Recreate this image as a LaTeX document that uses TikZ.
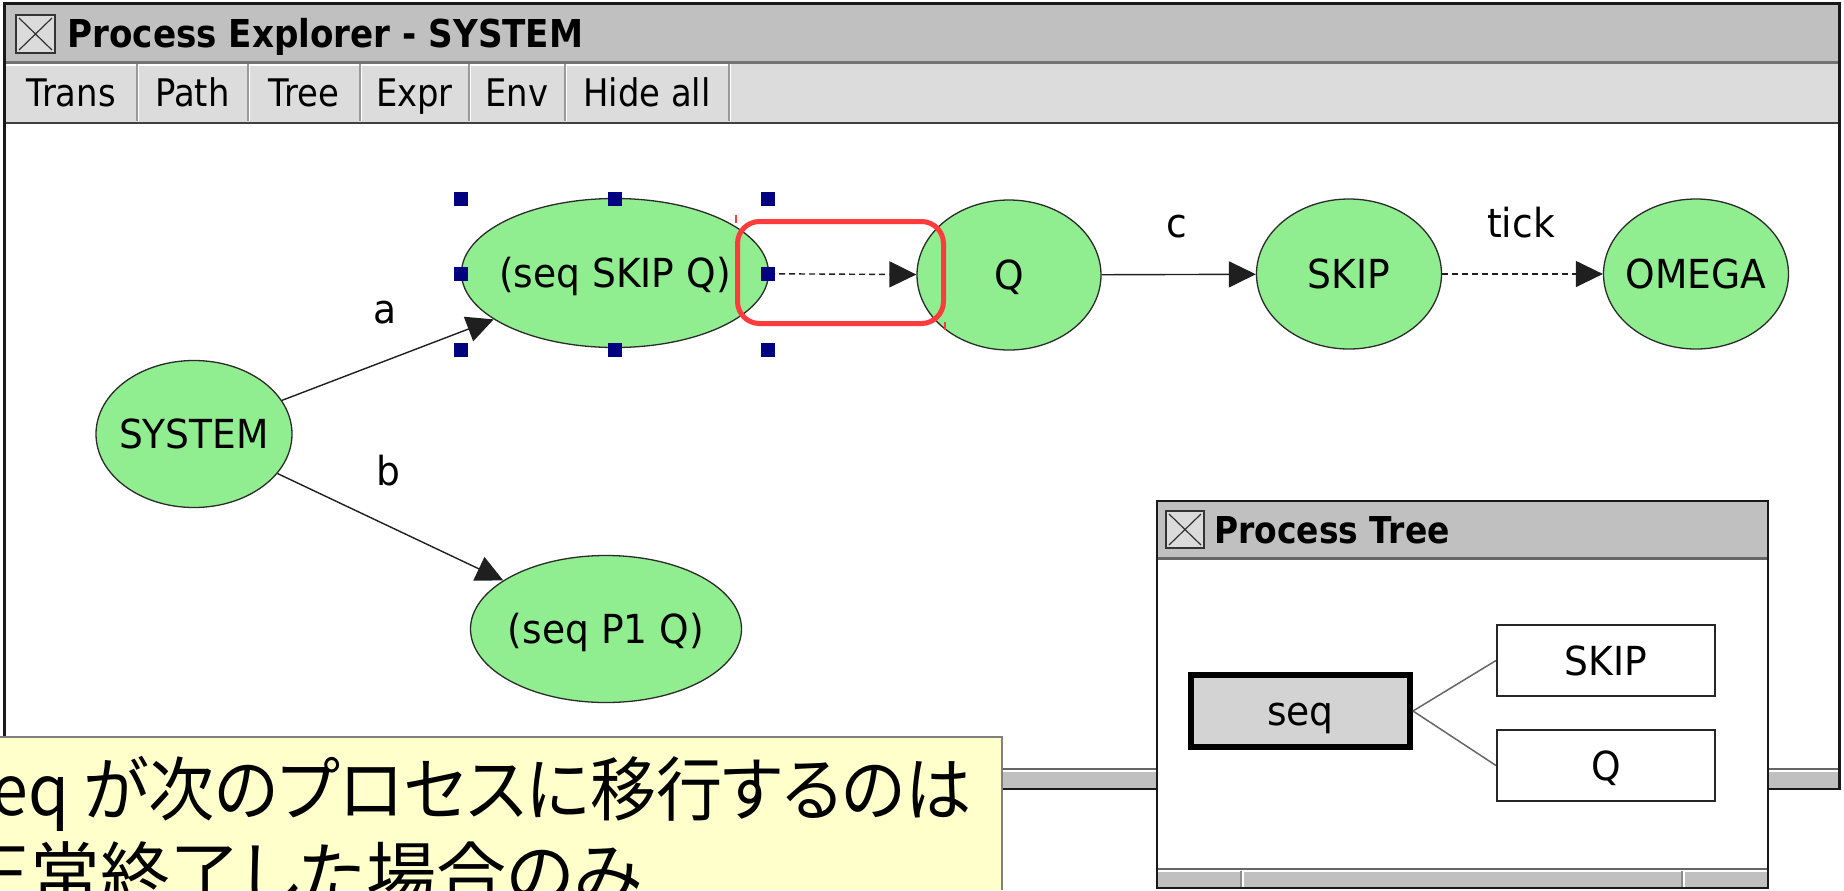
\documentclass[tikz,border=0pt]{standalone}
\usepackage{fontspec}
\setmainfont{DejaVu Sans}[FakeStretch=0.89]
\newfontfamily\nodefont{DejaVu Sans}[FakeStretch=0.94]
\newfontfamily\jpfont{Noto Sans CJK JP}[RawFeature=+palt]
\newfontfamily\jpnarrow{Noto Sans CJK JP}[RawFeature=+palt, FakeStretch=0.945]
\usetikzlibrary{shapes.geometric,arrows.meta}

\definecolor{titlegray}{HTML}{C0C0C0}
\definecolor{barface}{HTML}{DCDCDC}
\definecolor{nodegreen}{HTML}{90EE90}
\definecolor{handleblue}{HTML}{000080}
\definecolor{notebg}{HTML}{FFFFCC}
\definecolor{markred}{HTML}{FF3B3B}
\definecolor{seqgray}{HTML}{D3D3D3}
\definecolor{inkgray}{HTML}{2B2B2B}

\newcommand\statetext[1]{\makebox[0pt]{#1}}

\tikzset{
  uitext/.style={font=\fontsize{19}{22}\selectfont, inner sep=0pt, anchor=base},
  uititle/.style={font=\fontsize{18.5}{22}\selectfont\bfseries, inner sep=0pt, anchor=base west},
  state/.style={ellipse, draw=inkgray, line width=0.65pt, fill=nodegreen, inner sep=0pt,
    text height=14.6pt, text depth=0pt, font=\nodefont\fontsize{20}{24}\selectfont},
  trans/.style={draw=black!88, line width=0.7pt, -{Triangle[length=13.5pt,width=13pt]}},
  tau/.style={trans, dash pattern=on 3pt off 2pt},
  lbl/.style={font=\nodefont\fontsize{20}{24}\selectfont, inner sep=0pt, anchor=base},
  handle/.style={fill=handleblue, minimum size=7pt, inner sep=0pt},
  treebox/.style={draw=black!85, fill=white, line width=1pt, inner sep=0pt,
    minimum width=109pt, minimum height=35.5pt,
    text height=14.6pt, text depth=0pt, font=\nodefont\fontsize{20}{24}\selectfont},
  notetext/.style={font=\jpfont\fontsize{35}{40}\selectfont, inner sep=0pt, anchor=base west},
  closebox/.style={fill=black!14, draw=black!80, line width=0.7pt},
  winframe/.style={draw=black!90, line width=1.2pt},
}

\begin{document}
\begin{tikzpicture}[x=0.5pt,y=-0.5pt]
\useasboundingbox (0,0) rectangle (1844,890);
\fill[white] (0,0) rectangle (1844,890);

% ---------- main window ----------
\fill[white] (5,122) rectangle (1839,769);
\fill[titlegray] (5,4) rectangle (1839,61);
\fill[barface] (5,63) rectangle (1839,122);
\draw[black!55, line width=1.5pt] (5,62) -- (1839,62);
\draw[black!75, line width=1pt] (5,122.5) -- (1839,122.5);
\draw[white, line width=0.6pt] (6,65) -- (729,65);
\foreach \bx in {137,248,360,469,565,729} {
  \draw[black!40, line width=0.6pt] (\bx,64) -- (\bx,121);
  \draw[white, line width=0.6pt] (\bx+1.6,64) -- (\bx+1.6,121);
}
\draw[closebox] (16,15) rectangle (55,53);
\draw[black!80, line width=0.6pt] (19,18) -- (52,50) (19,50) -- (52,18);
\node[uititle, font=\fontsize{19.2}{22}\selectfont\bfseries] (title) at (67,47) {Process Explorer - SYSTEM};

\node[uitext] (bTrans) at (71,106) {Trans};
\node[uitext] (bPath) at (192.5,106) {Path};
\node[uitext] (bTree) at (304,106) {Tree};
\node[uitext] (bExpr) at (414.5,106) {Expr};
\node[uitext] (bEnv) at (517,106) {Env};
\node[uitext] (bHide) at (647,106) {Hide all};

% horizontal scroll bar
\fill[titlegray] (5,769) rectangle (1839,788);
\draw[black!60, line width=0.6pt] (5,769) -- (1839,769);
\draw[white, line width=0.6pt] (5,771) -- (1839,771);
\draw[winframe] (4.5,3.5) rectangle (1839.5,789);

% ---------- transition graph ----------
\node[state, minimum width=98pt, minimum height=73.5pt] (sys) at (194,434) {\statetext{SYSTEM}};
\node[state, minimum width=153.5pt, minimum height=74.5pt] (s1) at (615,273) {\statetext{(seq SKIP Q)}};
\node[state, minimum width=135.5pt, minimum height=73.5pt] (s2) at (606,629) {\statetext{(seq P1 Q)}};
\node[state, minimum width=92pt, minimum height=75pt] (q) at (1009,275) {\statetext{Q}};
\node[state, minimum width=92.5pt, minimum height=75pt] (skip) at (1349,274) {\statetext{SKIP}};
\node[state, minimum width=92.5pt, minimum height=75pt] (omega) at (1696,274) {\statetext{OMEGA}};

\draw[trans] (sys) -- (s1);
\draw[trans] (sys) -- (s2);
\draw[tau] (s1) -- (q);
\draw[trans] (q) -- (skip);
\draw[tau] (skip) -- (omega);

\node[lbl] (la) at (385,323) {a};
\node[lbl] (lb) at (388,485) {b};
\node[lbl] (lc) at (1177,237) {c};
\node[lbl] (ltick) at (1521,237) {tick};

% selection handles round the chosen state
\node[handle] (h1) at (461,199) {};
\node[handle] (h2) at (615,199) {};
\node[handle] (h3) at (768,199) {};
\node[handle] (h4) at (461,274) {};
\node[handle] (h5) at (768,274) {};
\node[handle] (h6) at (461,350) {};
\node[handle] (h7) at (615,350) {};
\node[handle] (h8) at (768,350) {};

% highlight of the tau step
\node[draw=markred, line width=2.5pt, rounded corners=11pt, minimum width=103pt,
      minimum height=51pt, inner sep=0pt] (mark) at (840.5,272.5) {};
\draw[markred, line width=0.6pt] (736,215) -- (736,223) (945,322) -- (945,330);

% ---------- process tree window ----------
\fill[white] (1157,501) rectangle (1768,888);
\fill[titlegray] (1157,501) rectangle (1768,558);
\draw[black!60, line width=1.5pt] (1157,558) -- (1768,558);
\fill[titlegray] (1157,869) rectangle (1768,888);
\draw[black!60, line width=0.6pt] (1157,869) -- (1768,869);
\draw[white, line width=0.6pt] (1157,871) -- (1768,871);
\draw[white, line width=0.8pt] (1243,871) -- (1243,888) (1684,871) -- (1684,888);
\draw[black!45, line width=0.6pt] (1241,871) -- (1241,888) (1682,871) -- (1682,888);
\draw[winframe] (1157,501) rectangle (1768,888);
\draw[closebox] (1166,511) rectangle (1204,548);
\draw[black!80, line width=0.6pt] (1169,514) -- (1201,545) (1169,545) -- (1201,514);
\node[uititle] (treetitle) at (1214,543) {Process Tree};

\node[treebox, fill=seqgray, draw=black, line width=3pt, minimum width=109.5pt,
      minimum height=36pt] (tseq) at (1300.5,711) {seq};
\node[treebox] (tskip) at (1606,660.5) {SKIP};
\node[treebox] (tq) at (1606,765.5) {Q};
\draw[black!60, line width=0.75pt] (tseq.east) -- (tskip.west);
\draw[black!60, line width=0.75pt] (tseq.east) -- (tq.west);

% ---------- note ----------
\begin{scope}
  \clip (0,737) rectangle (1002,890);
  \fill[notebg] (0,737) rectangle (1002,890);
  \node[notetext, font=\jpnarrow\fontsize{35}{40}\selectfont] (note1) at (-40,815) {seq が次のプロセスに移行するのは};
  \node[notetext] (note2) at (-40,900) {正常終了した場合のみ};
\end{scope}
\draw[black!50, line width=0.75pt] (0,737) -- (1002,737) -- (1002,890);
\end{tikzpicture}
\end{document}
